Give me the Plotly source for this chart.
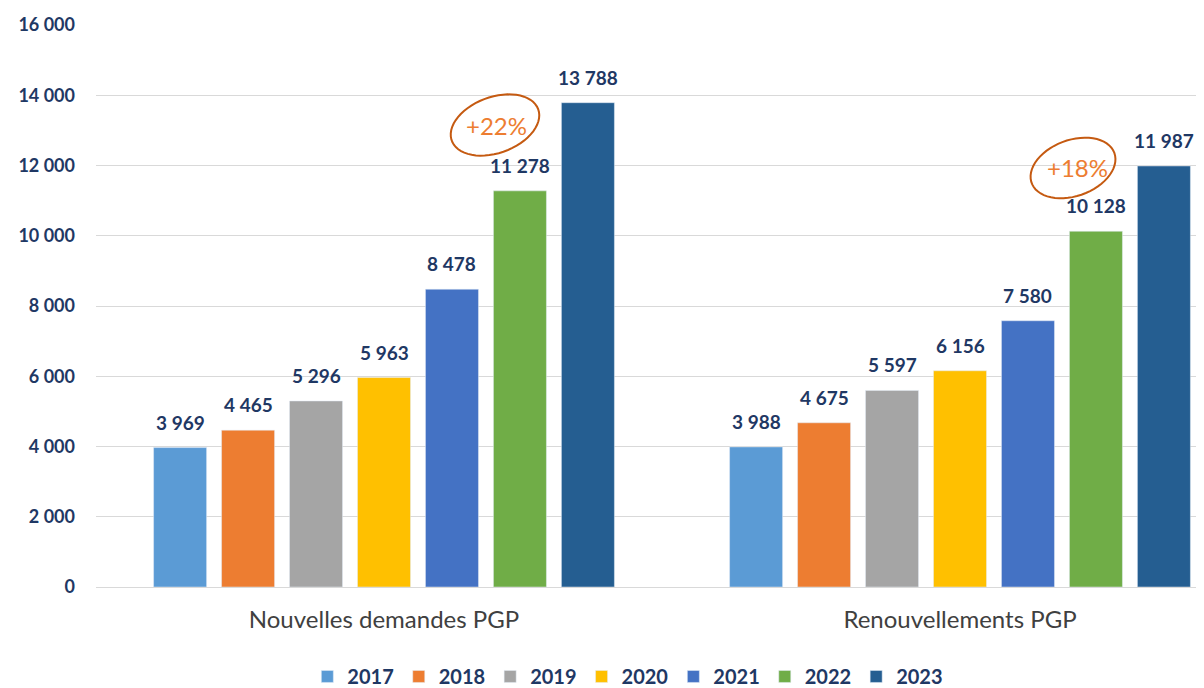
import numpy as np
import plotly.graph_objects as go

categories = ["Nouvelles demandes PGP", "Renouvellements PGP"]
years = ["2017", "2018", "2019", "2020", "2021", "2022", "2023"]
values = {
    "2017": [3969, 3988],
    "2018": [4465, 4675],
    "2019": [5296, 5597],
    "2020": [5963, 6156],
    "2021": [8478, 7580],
    "2022": [11278, 10128],
    "2023": [13788, 11987],
}
colors = ["#5B9BD5", "#ED7D31", "#A5A5A5", "#FFC000", "#4472C4", "#70AD47", "#255E91"]
growth_labels = ["+22%", "+18%"]

navy = "#1F3864"
font = "Lato"
x_pos = [0, 1]
bargap = 0.174

# page body has an 8px margin, so the figure is slightly smaller than the window
W, H = 1196, 680
ml, mr, mt, mb = 88, 0, 17, 101
pw, ph = W - ml - mr, H - mt - mb
px_per_x = 576.0          # pixels per category
px_per_y = ph / 16000.0

fig = go.Figure()
for i, (year, col) in enumerate(zip(years, colors)):
    fig.add_trace(go.Bar(name=year, x=x_pos, y=values[year], marker_color=col))
    # value labels above bars
    slot = (1 - bargap) / len(years)
    off = -(1 - bargap) / 2 + (i + 0.5) * slot
    for xc, v in zip(x_pos, values[year]):
        fig.add_annotation(x=xc + off, y=v, text=f"{v:,}".replace(",", " "),
                           showarrow=False, yanchor="bottom", yshift=12,
                           font=dict(family=font, size=19, color=navy, weight="bold"))

# tilted ellipses with growth rate near the 2022 bars
ellipses = [dict(cx=0.1927, cy=13153, a=46, b=28, tx=0.196),
            dict(cx=1.1962, cy=11929, a=44, b=28, tx=1.204)]
t = np.linspace(0, 2 * np.pi, 60)
ang = np.deg2rad(20)
for e, lab in zip(ellipses, growth_labels):
    ex = e["a"] * np.cos(t)
    ey = e["b"] * np.sin(t)
    rx = ex * np.cos(ang) - ey * np.sin(ang)
    ry = ex * np.sin(ang) + ey * np.cos(ang)
    xs = e["cx"] + rx / px_per_x
    ys = e["cy"] + ry / px_per_y
    path = "M " + " L ".join(f"{a:.5f},{b:.2f}" for a, b in zip(xs, ys)) + " Z"
    fig.add_shape(type="path", path=path, xref="x", yref="y",
                  line=dict(color="#C55A11", width=2))
    fig.add_annotation(x=e["tx"], y=e["cy"], text=lab, showarrow=False,
                       font=dict(family=font, size=24, color="#ED7D31"))

fig.update_layout(
    width=W, height=H,
    margin=dict(l=ml, r=mr, t=mt, b=mb),
    paper_bgcolor="white", plot_bgcolor="white",
    barmode="group", bargap=bargap, bargroupgap=0.22,
    separators=", ",
    showlegend=True,
    legend=dict(orientation="h", x=0.48, xanchor="center",
                yref="container", y=0.017, yanchor="middle",
                font=dict(family=font, size=20, color=navy, weight="bold"),
                itemwidth=30, tracegroupgap=0),
    xaxis=dict(tickvals=x_pos, ticktext=categories,
               range=[-0.5, -0.5 + pw / px_per_x],
               showgrid=False, zeroline=False, showline=False, ticks="",
               ticklabelstandoff=16,
               tickfont=dict(family=font, size=24, color="#404040")),
    yaxis=dict(range=[0, 16000], dtick=2000, tickformat=",",
               showgrid=True, gridcolor="#D9D9D9", gridwidth=1,
               zeroline=True, zerolinecolor="#D9D9D9", zerolinewidth=1,
               ticks="", ticklabelstandoff=20,
               tickfont=dict(family=font, size=18, color=navy, weight="bold")),
)

fig.write_html("out.html")
